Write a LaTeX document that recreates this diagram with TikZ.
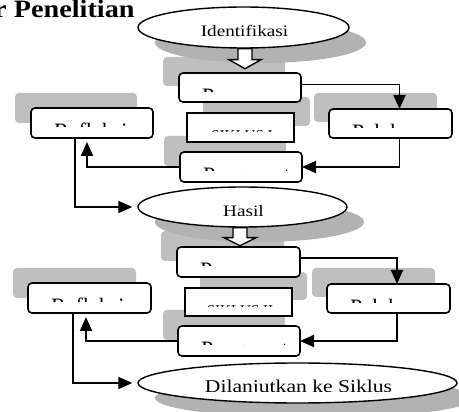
\documentclass[tikz,border=0pt]{standalone}
\usepackage{fontspec}
\setmainfont{Liberation Serif}
\usetikzlibrary{arrows.meta,shapes.geometric,backgrounds}

\begin{document}
\begin{tikzpicture}[
    x=1pt, y=-1pt,
    box/.style={draw, line width=1.6pt, rounded corners=4pt, fill=white,
      minimum width=122pt, minimum height=29pt, inner sep=0pt, outer sep=0pt},
    cyclebox/.style={draw, line width=2pt, fill=white,
      minimum width=107pt, minimum height=29pt, inner sep=0pt, outer sep=0pt},
    oval/.style={ellipse, draw, line width=1.4pt, fill=white, inner sep=0pt},
    conn/.style={-{Triangle[length=14pt,width=12pt]}, line width=1.8pt},
    hollow/.style={draw, line width=1.4pt, fill=white},
    boxtext/.style={inner sep=0pt, font=\fontsize{22}{22}\selectfont},
    cycletext/.style={inner sep=0pt, font=\fontsize{15}{15}\selectfont},
    shade/.style={fill=black!25},
    oshade/.style={fill=black!30}
]

\useasboundingbox (0,0) rectangle (459,412);
\clip (0,0) rectangle (459,412);

% title
\node[anchor=base west, inner sep=0pt, font=\bfseries\fontsize{25}{30}\selectfont]
  (title) at (-6,18) {\scalebox{1.13}[1]{r Penelitian}};

% siklus 1
\node[oval, minimum width=211pt, minimum height=41pt] (ident) at (243.5,27.5) {};
\node[box] (per1) at (240,87.5) {};
\node[cyclebox] (sik1) at (240.5,127.5) {};
\node[box, minimum height=30pt] (peng1) at (241,167) {};
\node[box, minimum width=123pt] (pel1) at (390.5,123.5) {};
\node[box, minimum height=30pt] (ref1) at (92,123) {};
\node[oval, minimum width=209pt, minimum height=40pt] (hasil) at (242.5,207) {};

% siklus 2
\node[box, minimum width=123pt, minimum height=30pt] (per2) at (238.5,262) {};
\node[cyclebox, minimum height=28pt] (sik2) at (238.5,302) {};
\node[box, minimum height=30pt] (peng2) at (239,341) {};
\node[box, minimum width=123pt] (pel2) at (388.5,298.5) {};
\node[box, minimum width=123pt, minimum height=30pt] (ref2) at (89.5,298) {};
\node[oval, minimum width=319pt, minimum height=40pt] (lanjut) at (297.5,383) {};

% bayangan
\begin{scope}[on background layer]
  \foreach \b/\dx/\dy in {per1/-16/-16, sik1/16/-16, peng1/-16/-16, pel1/-15/-16,
      ref1/-16/-15, per2/-16/-16, sik2/15/-16, peng2/-15/-16, pel2/-15/-16, ref2/-15/-15}
    \fill[shade, rounded corners=4pt] ([shift={(\dx,\dy)}]\b.south west)
      rectangle ([shift={(\dx,\dy)}]\b.north east);
  \foreach \e/\rx/\ry in {ident/105.5/20.5, hasil/104.5/20, lanjut/159.5/20}
    \fill[oshade] ([shift={(17,15)}]\e.center) ellipse [x radius=\rx, y radius=\ry];
\end{scope}

% panah
\draw[conn] ([yshift=3pt]per1.east) -| ([xshift=9pt]pel1.north);
\draw[conn] ([xshift=9pt]pel1.south) |- (peng1.east);
\draw[conn, shorten >=4pt] (peng1.west) -| ([xshift=-5pt]ref1.south);
\draw[conn, shorten >=5pt] ([xshift=-17pt]ref1.south) |- (hasil.west);

\draw[conn] ([yshift=4pt]per2.east) -| ([xshift=8.5pt]pel2.north);
\draw[conn] ([xshift=8.5pt]pel2.south) |- (peng2.east);
\draw[conn, shorten >=4pt] (peng2.west) -| ([xshift=-3.5pt]ref2.south);
\draw[conn, shorten >=5pt] ([xshift=-16.5pt]ref2.south) |- (lanjut.west);

\draw[hollow] ([xshift=-5.5pt]ident.south) -- ++(0,11) -- ++(-9,0) -- ++(16,9)
  -- ++(16,-9) -- ++(-9,0) -- ++(0,-11) -- cycle;
\draw[hollow] ([xshift=-9.5pt]hasil.south) -- ++(0,10) -- ++(-9,0) -- ++(16,8)
  -- ++(16,-8) -- ++(-9,0) -- ++(0,-10) -- cycle;

% teks (terpotong)
\foreach \b/\t in {per1/Perencanaan, peng1/Pengamatan, pel1/Pelaksanaan, ref1/Refleksi,
    per2/Perencanaan, peng2/Pengamatan, pel2/Pelaksanaan, ref2/Refleksi}{
  \begin{scope}
    \clip (\b.north west) rectangle ([yshift=-18.2pt]\b.north east);
    \node[boxtext, anchor=base west] (\b-t) at ([xshift=23pt,yshift=-30.3pt]\b.north west) {\t};
  \end{scope}
}
\foreach \b/\t in {sik1/SIKLUS I, sik2/SIKLUS II}{
  \begin{scope}
    \clip (\b.north west) rectangle ([yshift=-19pt]\b.north east);
    \node[cycletext, anchor=base] (\b-t) at ([xshift=1.5pt,yshift=-27.9pt]\b.north) {\t};
  \end{scope}
}
\foreach \e/\t/\s in {ident/Identifikasi/16, hasil/Hasil/16, lanjut/Dilanjutkan ke Siklus/18}{
  \begin{scope}
    \clip (\e.north -| \e.west) rectangle ([yshift=-9pt]\e.east);
    \node[anchor=base, inner sep=0pt, font=\fontsize{\s}{\s}\selectfont] (\e-t)
      at ([xshift=1pt,yshift=-9.5pt]\e.center) {\scalebox{1.2}[1]{\t}};
  \end{scope}
}

\end{tikzpicture}
\end{document}
